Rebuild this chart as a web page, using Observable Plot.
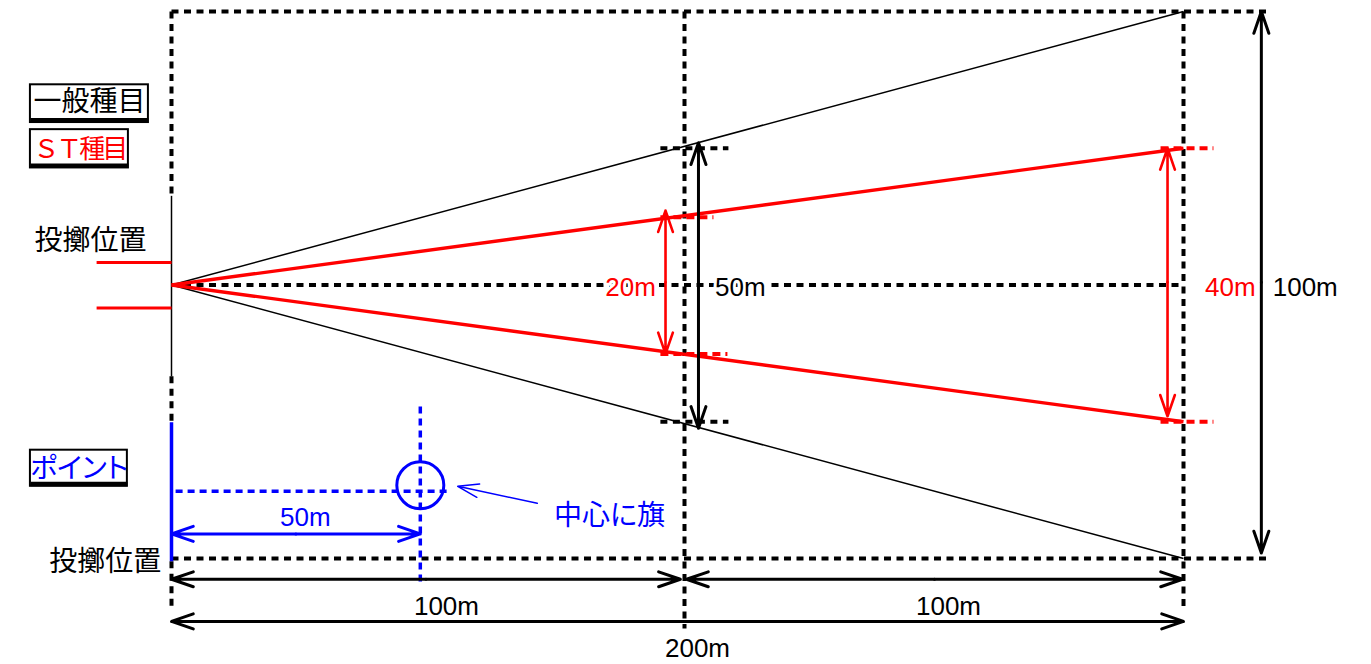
<!DOCTYPE html>
<html>
<head>
<meta charset="utf-8">
<script src="https://cdn.jsdelivr.net/npm/d3@7"></script>
<script src="https://cdn.jsdelivr.net/npm/@observablehq/plot@0.6"></script>
<style>
  html, body { margin: 0; padding: 0; background: #fff; }
  svg text { font-feature-settings: "palt" 1; }
</style>
</head>
<body>
<div id="chart"></div>
<script>
// x: metres from the throwing position (0..200); y: lateral position in drawn units
const BLACK = "#000000", RED = "#ff0000", BLUE = "#0000ff";

// sector boundaries
const generalSector = [
  {x1: 0, y1: 0, x2: 200, y2: 50},
  {x1: 0, y1: 0, x2: 200, y2: -50}
];
const stSector = [
  {x1: 0, y1: 0, x2: 200, y2: 25},
  {x1: 0, y1: 0, x2: 200, y2: -25}
];

// dashed guide lines (black)
const blackDashed = [
  {x1: 0, y1: 50, x2: 217.4, y2: 50},
  {x1: 0, y1: -50, x2: 217.4, y2: -50},
  {x1: 0, y1: 50, x2: 0, y2: 16.3},
  {x1: 0, y1: -16.7, x2: 0, y2: -24.9},
  {x1: 0, y1: -50.5, x2: 0, y2: -58.8},
  {x1: 100, y1: 50, x2: 100, y2: -62.8},
  {x1: 200, y1: 50, x2: 200, y2: -58.8},
  {x1: 0, y1: 0, x2: 199, y2: 0},
  {x1: 95.3, y1: 25, x2: 108.8, y2: 25},
  {x1: 95.3, y1: -25, x2: 108.8, y2: -25}
];
// dashed ticks (red)
const redDashed = [
  {x1: 95.3, y1: 12.4, x2: 105.8, y2: 12.4},
  {x1: 95.3, y1: -12.6, x2: 108.6, y2: -12.6},
  {x1: 195.4, y1: 25, x2: 206.0, y2: 25},
  {x1: 195.4, y1: -25, x2: 206.0, y2: -25}
];
// dashed lines (blue)
const blueDashed = [
  {x1: 0.8, y1: -37.7, x2: 54, y2: -37.7},
  {x1: 48.5, y1: -22.2, x2: 48.5, y2: -54.2}
];

// solid lines at the throwing position
const throwLine = [{x1: 0, y1: 16.3, x2: 0, y2: -16.7}];
const redStubs = [
  {x1: -14.6, y1: 4.1, x2: 0, y2: 4.1},
  {x1: -14.6, y1: -4.2, x2: 0, y2: -4.2}
];
const pointLine = [{x1: 0, y1: -25.1, x2: 0, y2: -50.5}];

// double-headed dimension arrows
const blackArrows = [
  {x1: 102.8, y1: 26, x2: 102.8, y2: -26.2},
  {x1: 215.6, y1: 50, x2: 215.6, y2: -49},
  {x1: 0, y1: -53.8, x2: 99.2, y2: -53.8},
  {x1: 100.4, y1: -53.8, x2: 199.8, y2: -53.8},
  {x1: 0, y1: -61.5, x2: 200, y2: -61.5}
];
const redArrows = [
  {x1: 96.3, y1: 13.6, x2: 96.3, y2: -12.6},
  {x1: 196.8, y1: 25, x2: 196.8, y2: -24}
];
const blueArrows = [
  {x1: 0, y1: -45.5, x2: 48.5, y2: -45.5}
];
// single-headed pointer arrow
const pointer = [{x1: 71.3, y1: -39.9, x2: 55.8, y2: -36.8}];

// flag circle
const flag = [{x: 48.5, y: -36.6}];

// legend boxes
const boxes = [
  {x1: -27.5, x2: -4.5, y1: 36.6, y2: 29.7, yb: 30.1},
  {x1: -27.5, x2: -8.4, y1: 28.4, y2: 21.4, yb: 21.8},
  {x1: -27.5, x2: -8.6, y1: -30.2, y2: -36.8, yb: -36.4}
];

// text labels
const cjkLabels = [
  {x: -16.0, y: 33.4, text: "一般種目", color: BLACK},
  {x: -15.8, y: 8.1, text: "投擲位置", color: BLACK},
  {x: -18.0, y: -33.6, text: "ポイント", color: BLUE},
  {x: -12.9, y: -50.6, text: "投擲位置", color: BLACK},
  {x: 85.4, y: -42.3, text: "中心に旗", color: BLUE}
];
const stLabel = [{x: -18.0, y: 24.7, text: "ＳＴ種目", color: RED}];
const dimLabels = [
  {x: 89.5, y: -0.4, text: "20m", color: RED},
  {x: 111.2, y: -0.4, text: "50m", color: BLACK},
  {x: 209.4, y: -0.4, text: "40m", color: RED},
  {x: 224.4, y: -0.4, text: "100m", color: BLACK},
  {x: 26.1, y: -42.5, text: "50m", color: BLUE},
  {x: 53.6, y: -58.8, text: "100m", color: BLACK},
  {x: 152.9, y: -58.8, text: "100m", color: BLACK},
  {x: 102.6, y: -66.4, text: "200m", color: BLACK}
];

// split each double arrow into two arrows from its midpoint
const halves = (arr) => arr.flatMap(d => {
  const mx = (d.x1 + d.x2) / 2, my = (d.y1 + d.y2) / 2;
  return [
    {x1: mx, y1: my, x2: d.x1, y2: d.y1},
    {x1: mx, y1: my, x2: d.x2, y2: d.y2}
  ];
});

const seg = {x1: "x1", y1: "y1", x2: "x2", y2: "y2"};
const dash = (data, color, w, pattern) =>
  Plot.link(data, {...seg, stroke: color, strokeWidth: w, strokeDasharray: pattern, strokeLinecap: "butt"});

const plot = Plot.plot({
  width: 1371,
  height: 664,
  margin: 0,
  style: {background: "#fff"},
  x: {type: "linear", domain: [0, 100, 200], range: [171, 684, 1183], axis: null},
  y: {type: "linear", domain: [-50, 50], range: [558, 11], axis: null},
  marks: [
    dash(blackDashed, BLACK, 4, "7,5.5"),
    dash(blueDashed, BLUE, 3.5, "7,5"),
    Plot.link(throwLine, {...seg, stroke: BLACK, strokeWidth: 1.5}),
    Plot.link(pointLine, {...seg, stroke: BLUE, strokeWidth: 3.5}),
    Plot.link(redStubs, {...seg, stroke: RED, strokeWidth: 3}),
    Plot.link(generalSector, {...seg, stroke: BLACK, strokeWidth: 1.5}),
    Plot.link(stSector, {...seg, stroke: RED, strokeWidth: 3.4}),
    dash(redDashed, RED, 4, "8,5"),
    Plot.dot(flag, {x: "x", y: "y", r: 23.5, stroke: BLUE, strokeWidth: 3, fill: "none"}),
    Plot.arrow(halves(blackArrows), {...seg, stroke: BLACK, strokeWidth: 3, headLength: 11.5, headAngle: 38}),
    Plot.arrow(halves(redArrows), {...seg, stroke: RED, strokeWidth: 2.6, headLength: 13, headAngle: 38}),
    Plot.arrow(halves(blueArrows), {...seg, stroke: BLUE, strokeWidth: 3, headLength: 11.5, headAngle: 38}),
    Plot.arrow(pointer, {...seg, stroke: BLUE, strokeWidth: 1.5, headLength: 22, headAngle: 36}),
    Plot.rect(boxes, {x1: "x1", x2: "x2", y1: "y1", y2: "y2", fill: "white", stroke: BLACK, strokeWidth: 2}),
    Plot.link(boxes, {x1: "x1", x2: "x2", y1: "yb", y2: "yb", stroke: BLACK, strokeWidth: 4.5}),
    Plot.text(dimLabels, {
      x: "x", y: "y", text: "text", fill: d => d.color,
      fontSize: 26, fontFamily: "'Liberation Sans', Arial, sans-serif",
      stroke: "white", strokeWidth: 6
    }),
    Plot.text(cjkLabels, {
      x: "x", y: "y", text: "text", fill: d => d.color,
      fontSize: 28, fontFamily: "'Noto Sans CJK JP', sans-serif"
    }),
    Plot.text(stLabel, {
      x: "x", y: "y", text: "text", fill: d => d.color,
      fontSize: 26, fontFamily: "'Noto Sans CJK JP', sans-serif"
    })
  ]
});

// the ST label uses full-width letters set slightly tighter
d3.select(plot).selectAll("text")
  .filter(function () { return this.textContent === "ＳＴ種目"; })
  .style("font-feature-settings", "normal")
  .style("letter-spacing", "-3px");

document.getElementById("chart").appendChild(plot);
</script>
</body>
</html>
